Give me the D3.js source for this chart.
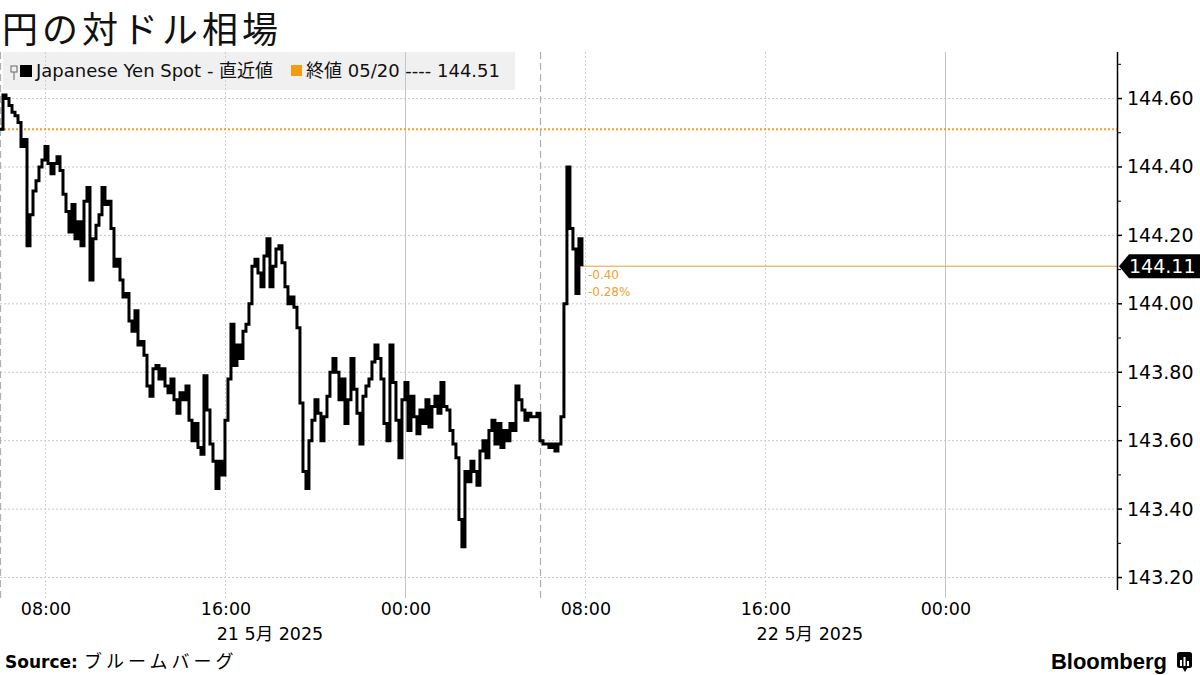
<!DOCTYPE html>
<html><head><meta charset="utf-8">
<script src="https://cdn.jsdelivr.net/npm/d3@7"></script>
<style>body{margin:0;background:#fff} svg{display:block}</style>
</head><body><svg id="c" width="1200" height="675"></svg>
<script>
const title = "円の対ドル相場";
const seriesName = "Japanese Yen Spot - 直近値";
const prevCloseLabel = "終値 05/20 ---- 144.51";
const prevClose = 144.51;
const startTime = "2025-05-21T06:00";
const stepMinutes = 8;
const values = [
144.51,144.61,144.60,144.58,144.56,144.55,144.53,144.46,144.48,144.17,
144.26,144.33,144.36,144.40,144.42,144.46,144.41,144.38,144.41,144.43,
144.39,144.32,144.27,144.21,144.29,144.19,144.24,144.17,144.30,144.34,
144.07,144.19,144.23,144.26,144.34,144.29,144.30,144.22,144.11,144.13,
144.07,144.02,144.03,143.95,143.92,143.98,143.88,143.89,143.85,143.76,
143.73,143.81,143.82,143.78,143.81,143.76,143.74,143.78,143.72,143.68,
143.74,143.72,143.76,143.66,143.60,143.65,143.58,143.56,143.79,143.69,
143.59,143.54,143.46,143.54,143.50,143.66,143.78,143.94,143.82,143.88,
143.84,143.92,143.94,144.00,144.11,144.13,144.09,144.05,144.14,144.19,
144.05,144.11,144.16,144.17,144.12,144.05,144.00,144.02,143.99,143.93,
143.71,143.51,143.46,143.60,143.66,143.72,143.68,143.60,143.67,143.73,
143.80,143.84,143.80,143.72,143.78,143.65,143.72,143.84,143.75,143.68,
143.59,143.73,143.76,143.78,143.83,143.88,143.84,143.78,143.65,143.60,
143.88,143.77,143.66,143.55,143.72,143.77,143.63,143.73,143.67,143.62,
143.69,143.65,143.72,143.64,143.70,143.73,143.68,143.77,143.70,143.69,
143.63,143.59,143.55,143.37,143.29,143.51,143.48,143.54,143.51,143.47,
143.57,143.60,143.55,143.63,143.66,143.59,143.65,143.58,143.63,143.60,
143.65,143.63,143.76,143.72,143.69,143.66,143.68,143.67,143.67,143.68,
143.60,143.59,143.59,143.58,143.59,143.57,143.59,143.67,144.00,144.40,
144.22,144.16,144.03,144.19,144.11
];
const yTicks = [143.2,143.4,143.6,143.8,144.0,144.2,144.4,144.6];
const yMinorTicks = [143.3,143.5,143.7,143.9,144.1,144.3,144.5,144.7];
const xDomain = ["2025-05-21T06:00","2025-05-23T07:39"];
const sessionMarks = ["2025-05-21T06:00","2025-05-22T06:00"];
const dateLabels = [["2025-05-21T18:00","21 5月 2025"],["2025-05-22T18:00","22 5月 2025"]];
const changeLabels = ["-0.40","-0.28%"];
const sourceLabel = "ブルームバーグ";

const parse = d3.utcParse("%Y-%m-%dT%H:%M");
const t0 = parse(startTime);
const data = values.map((v,i)=>({t:new Date(t0.getTime()+i*stepMinutes*60000), v}));
const last = data[data.length-1];

const L=0, R=1117, T=52, B=595;
const svg = d3.select("#c");
const x = d3.scaleUtc().domain(xDomain.map(parse)).range([L,R]);
const y = d3.scaleLinear().domain([143.149,144.736]).range([B,T]);

const latin = "'DejaVu Sans','Noto Sans CJK JP',sans-serif";
const orange = "#f0a030";

// title
svg.append("text").attr("x",2).attr("y",43).attr("font-family","'Noto Sans CJK JP',serif")
  .attr("font-size",36).attr("letter-spacing",4).attr("fill","#111").text(title);

// legend box
svg.append("rect").attr("x",3).attr("y",52).attr("width",512).attr("height",38).attr("fill","#f0f0f0");

// horizontal grid
svg.append("g").selectAll("line").data(yTicks).join("line")
  .attr("x1",L).attr("x2",R).attr("y1",d=>y(d)).attr("y2",d=>y(d))
  .attr("stroke","#c8c8c8").attr("stroke-dasharray","2,2");

// vertical grid
const xt = x.ticks(d3.utcHour.every(8));
svg.append("g").selectAll("line").data(xt).join("line")
  .attr("x1",d=>Math.round(x(d))+0.5).attr("x2",d=>Math.round(x(d))+0.5).attr("y1",T).attr("y2",598)
  .attr("stroke",d=>d.getUTCHours()===0?"#c4c4c4":"#cfcfcf")
  .attr("stroke-dasharray",d=>d.getUTCHours()===0?null:"2,2");
svg.append("g").selectAll("line").data(sessionMarks.map(parse)).join("line")
  .attr("x1",d=>Math.round(x(d))+0.5).attr("x2",d=>Math.round(x(d))+0.5).attr("y1",T).attr("y2",598)
  .attr("stroke","#b0b0b0").attr("stroke-width",1.2).attr("stroke-dasharray","7,4");

// prev close dotted
svg.append("line").attr("x1",L).attr("x2",R).attr("y1",y(prevClose)).attr("y2",y(prevClose))
  .attr("stroke",orange).attr("stroke-width",2).attr("stroke-dasharray","2,2");

// last price line
svg.append("line").attr("x1",x(last.t)).attr("x2",R).attr("y1",y(last.v)).attr("y2",y(last.v))
  .attr("stroke","#e8a030").attr("stroke-width",1);

// data line
const line = d3.line().x(d=>x(d.t)).y(d=>y(d.v)).curve(d3.curveStepAfter);
svg.append("path").datum(data).attr("d",line).attr("fill","none")
  .attr("stroke","#000").attr("stroke-width",3).attr("stroke-linejoin","miter");

// change labels
svg.append("g").selectAll("text").data(changeLabels).join("text")
  .attr("x",x(last.t)+6).attr("y",(d,i)=>y(last.v)+9+i*17).attr("dominant-baseline","middle")
  .attr("font-family",latin).attr("font-size",12).attr("fill",orange).text(d=>d);

// right axis
const ax = svg.append("g");
ax.append("line").attr("x1",R+0.5).attr("x2",R+0.5).attr("y1",T).attr("y2",590).attr("stroke","#000").attr("stroke-width",1.5);
ax.selectAll(".maj").data(yTicks).join("line").attr("class","maj")
  .attr("x1",R).attr("x2",R+5).attr("y1",d=>y(d)).attr("y2",d=>y(d)).attr("stroke","#000").attr("stroke-width",1.5);
ax.selectAll(".min").data(yMinorTicks).join("line").attr("class","min")
  .attr("x1",R).attr("x2",R+4).attr("y1",d=>y(d)).attr("y2",d=>y(d)).attr("stroke","#000").attr("stroke-width",1);
ax.selectAll("text").data(yTicks).join("text")
  .attr("x",R+10).attr("y",d=>y(d)+1).attr("dominant-baseline","middle")
  .attr("font-family",latin).attr("font-size",19).attr("fill","#000").text(d=>d.toFixed(2));

// current price tag
const yl = y(last.v);
svg.append("path").attr("d",`M${R+2},${yl} L${R+12},${yl-12} L1200,${yl-12} L1200,${yl+12} L${R+12},${yl+12} Z`).attr("fill","#000");
svg.append("text").attr("x",R+12).attr("y",yl+1).attr("dominant-baseline","middle")
  .attr("font-family",latin).attr("font-size",19).attr("fill","#fff").text(last.v.toFixed(2));

// x tick labels
const fmt = d3.utcFormat("%H:%M");
svg.append("g").selectAll("text").data(xt).join("text")
  .attr("x",d=>x(d)+1).attr("y",610).attr("text-anchor","middle").attr("dominant-baseline","middle")
  .attr("font-family",latin).attr("font-size",17.5).attr("fill","#000").text(d=>fmt(d));
svg.append("g").selectAll("text").data(dateLabels).join("text")
  .attr("x",d=>x(parse(d[0]))).attr("y",635).attr("text-anchor","middle").attr("dominant-baseline","middle")
  .attr("font-family",latin).attr("font-size",17.5).attr("fill","#000").text(d=>d[1]);

// legend
const lg = svg.append("g");
lg.append("rect").attr("x",11).attr("y",66).attr("width",6).attr("height",6).attr("fill","none").attr("stroke","#666").attr("stroke-width",1);
lg.append("line").attr("x1",14).attr("x2",14).attr("y1",72).attr("y2",80).attr("stroke","#666");
lg.append("rect").attr("x",20).attr("y",65).attr("width",12).attr("height",12).attr("fill","#000");
lg.append("text").attr("x",36).attr("y",72).attr("dominant-baseline","middle").attr("font-family",latin)
  .attr("font-size",18).attr("fill","#111").text(seriesName);
lg.append("rect").attr("x",291).attr("y",65).attr("width",11).attr("height",11).attr("fill","#f39c12");
lg.append("text").attr("x",306).attr("y",72).attr("dominant-baseline","middle").attr("font-family",latin)
  .attr("font-size",18).attr("fill","#111").text(prevCloseLabel);

// source
svg.append("text").attr("x",5).attr("y",668).attr("font-family",latin).attr("font-weight","bold")
  .attr("font-size",17).attr("fill","#000").text("Source:");
svg.append("text").attr("x",84).attr("y",668).attr("font-family","'Noto Sans CJK JP',serif")
  .attr("font-size",18).attr("letter-spacing",4).attr("fill","#000").text(sourceLabel);

// Bloomberg logo
svg.append("text").attr("x",1167).attr("y",669).attr("text-anchor","end").attr("font-family","'Liberation Sans',Arial,sans-serif")
  .attr("font-weight","bold").attr("font-size",22).attr("fill","#000").text("Bloomberg");
const lo = svg.append("g");
lo.append("rect").attr("x",1177).attr("y",652).attr("width",15).attr("height",16).attr("rx",2.5).attr("fill","#000");
lo.append("path").attr("d","M1182,667 L1185,672 L1188,667 Z").attr("fill","#000");
[[1180,660,2,6],[1183.5,657,2,9],[1187,661,2,5]].forEach(b=>lo.append("rect").attr("x",b[0]).attr("y",b[1]).attr("width",b[2]).attr("height",b[3]).attr("fill","#fff"));
</script></body></html>
